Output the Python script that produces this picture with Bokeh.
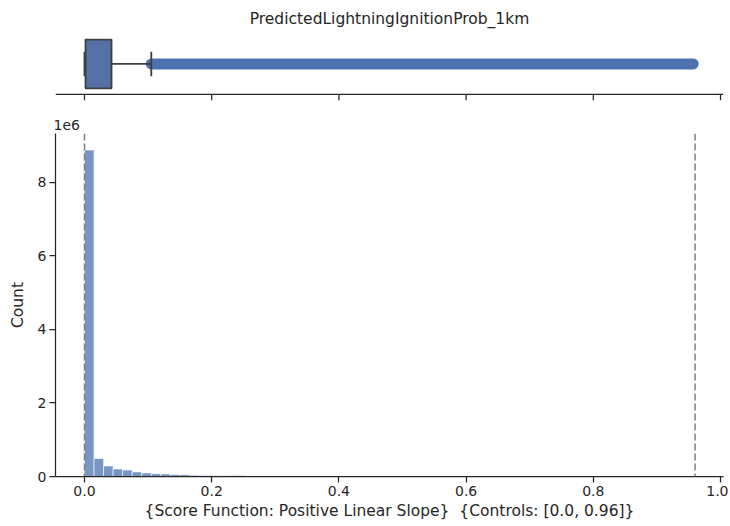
from bokeh.plotting import figure
from bokeh.layouts import column
from bokeh.models import Range1d, FixedTicker, Span, Title, NumeralTickFormatter
from bokeh.embed import file_html
from bokeh.resources import INLINE

# ---- data ----
title_text = "PredictedLightningIgnitionProb_1km"
xlabel_text = "{Score Function: Positive Linear Slope}\u00a0\u00a0{Controls: [0.0, 0.96]}"
ylabel_text = "Count"
offset_text = "1e6"

bin_width = 0.015
bin_starts = [round(i * 0.015, 3) for i in range(64)]
counts = [8.88e6, 0.49e6, 0.285e6, 0.205e6, 0.175e6, 0.125e6, 0.097e6, 0.075e6,
          0.07e6, 0.052e6, 0.05e6, 0.033e6, 0.03e6, 0.028e6, 0.027e6, 0.025e6,
          0.024e6,
          4000, 3500, 3000, 2600, 2300, 2000, 1800, 1600, 1400, 1300, 1200, 1100,
          1000, 950, 900, 850, 800, 750, 700, 650, 600, 560, 520, 480, 450, 420,
          390, 360, 330, 300, 280, 260, 240, 220, 200, 180, 160, 140, 120, 100,
          90, 80, 70, 60, 50, 40, 30]

control_lines = [0.0, 0.96]

box_min = 0.0
box_q1 = 0.0016
box_median = 0.0
box_q3 = 0.0425
box_whisker_hi = 0.105
outlier_min = 0.105
outlier_max = 0.957

x_ticks = [0.0, 0.2, 0.4, 0.6, 0.8, 1.0]
y_ticks = [0, 2e6, 4e6, 6e6, 8e6]
y_tick_labels = {0: "0", 2000000: "2", 4000000: "4", 6000000: "6", 8000000: "8"}

# ---- style ----
FONT = "DejaVu Sans"
TXT = "#262626"
AX = "#262626"
X0, X1 = -0.0456, 1.0047
W = 728
LBL = "15.5px"
TICK = "14px"

# ---- top: boxplot (axis line at y=-0.5, ticks hang below it) ----
AXIS_Y = -0.5
TICK_LEN = 0.098
top = figure(width=W, height=102, output_backend="svg", toolbar_location=None,
             x_range=Range1d(X0, X1), y_range=Range1d(-0.6, 0.5),
             min_border_left=55, min_border_right=5, min_border_top=33,
             min_border_bottom=2, title=title_text)
top.title.align = "center"
top.title.text_font = FONT
top.title.text_font_size = LBL
top.title.text_font_style = "normal"
top.title.text_color = TXT
top.title.standoff = 12
top.outline_line_color = None
top.xgrid.visible = False
top.ygrid.visible = False
top.yaxis.visible = False
top.xaxis.visible = False

top.add_layout(Span(location=AXIS_Y, dimension="width", line_color=AX, line_width=1.25))
top.segment(x0=x_ticks, y0=[AXIS_Y] * len(x_ticks), x1=x_ticks,
            y1=[AXIS_Y - TICK_LEN] * len(x_ticks), line_color=AX, line_width=1.25)

box_fill = "#5470a4"
box_edge = "#3f3f3f"
# outliers (dense band of fliers)
top.line([outlier_min, outlier_max], [0, 0], line_width=11, line_color="#4c72b0",
         line_cap="round")
# whiskers
top.segment(x0=[box_q3, box_min], y0=[0, 0], x1=[box_whisker_hi, box_q1], y1=[0, 0],
            line_color=box_edge, line_width=1.8)
top.segment(x0=[box_whisker_hi], y0=[-0.2], x1=[box_whisker_hi], y1=[0.2],
            line_color=box_edge, line_width=1.8)
# box
top.quad(left=[box_q1], right=[box_q3], bottom=[-0.4], top=[0.4],
         fill_color=box_fill, line_color=box_edge, line_width=1.8)
# median
top.segment(x0=[box_median], y0=[-0.2], x1=[box_median], y1=[0.2],
            line_color=box_edge, line_width=1.8)

# ---- main: histogram ----
p = figure(width=W, height=424, output_backend="svg", toolbar_location=None,
           x_range=Range1d(X0, X1), y_range=Range1d(0, 9.33e6),
           min_border_left=55, min_border_right=5, min_border_top=31,
           min_border_bottom=50)
p.outline_line_color = None
p.xgrid.visible = False
p.ygrid.visible = False

centers = [s + bin_width / 2 for s in bin_starts]
p.vbar(x=centers, top=counts, bottom=0, width=bin_width,
       fill_color="#7995c4", line_color="white", line_width=0.6)

for c in control_lines:
    p.add_layout(Span(location=c, dimension="height", line_color="#7f7f7f",
                      line_width=1.5, line_dash="7 3"))

for ax in (p.xaxis[0], p.yaxis[0]):
    ax.axis_line_color = AX
    ax.major_tick_line_color = AX
    ax.axis_line_width = 1.25
    ax.major_tick_line_width = 1.25
    ax.major_tick_out = 6
    ax.major_tick_in = 0
    ax.minor_tick_line_color = None
    ax.major_label_text_font = FONT
    ax.major_label_text_font_size = TICK
    ax.major_label_text_color = TXT
    ax.axis_label_text_font = FONT
    ax.axis_label_text_font_size = LBL
    ax.axis_label_text_font_style = "normal"
    ax.axis_label_text_color = TXT
    ax.major_label_standoff = 3
    ax.axis_label_standoff = 3

p.xaxis.ticker = FixedTicker(ticks=x_ticks)
p.xaxis.formatter = NumeralTickFormatter(format="0.0")
p.yaxis.ticker = FixedTicker(ticks=y_ticks)
p.yaxis.major_label_overrides = y_tick_labels
p.xaxis.axis_label = xlabel_text
p.yaxis.axis_label = ylabel_text
p.yaxis.axis_label_standoff = 8

p.add_layout(Title(text=offset_text, align="left", text_font=FONT, text_font_size=TICK,
                   text_font_style="normal", text_color=TXT, standoff=7, offset=-2),
             "above")

layout = column(top, p, spacing=0)
open("out.html", "w").write(file_html(layout, INLINE))
